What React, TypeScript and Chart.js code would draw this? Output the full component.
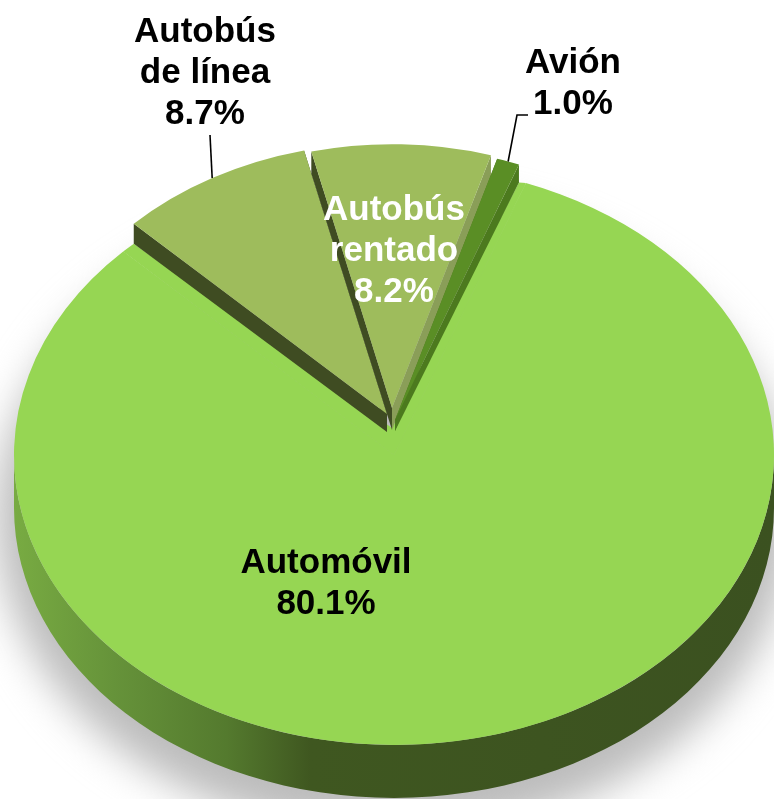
import React, { useEffect, useRef } from "react";
import { Chart, registerables } from "chart.js";

Chart.register(...registerables);

// ---- data ----
const categories = ["Automóvil", "Autobús\nde línea", "Autobús\nrentado", "Avión"];
const shares = [80.1, 8.7, 8.2, 1.0];

// ---- styles ----
const faceColors = ["#96D653", "#9EBC5C", "#9EBC5C", "#5A8E25"];
const leftWallColors = ["#3F5320", "#3F4C22", "#3F4C22", "#4C7A1E"];
const rightWallColors = ["#3F5320", "#3F4C22", "#8A9E58", "#4C7A1E"];
const labelColors = ["#000000", "#000000", "#FFFFFF", "#000000"];

// ---- layout: tilt of the pie, and how each slice is pulled out of it ----
const W = 774;
const H = 799;
const PIE_RADIUS = 380;
const TILT = 0.763;
const START_DEG = 20.3;
const CAR_APEX: [number, number] = [392, 428];
const slicePlacement = [
  { at: [394, 455], scale: 1, depth: 53, apexDepth: 53 },
  { at: [387, 414], scale: 0.935, depth: 20, apexDepth: 18 },
  { at: [392, 408], scale: 0.91, depth: 22, apexDepth: 22 },
  { at: [395, 420], scale: 0.94, depth: 18, apexDepth: 11 },
];
const labelPlacement = [
  { x: 326, y: 563 },
  { x: 205, y: 32 },
  { x: 394, y: 210 },
  { x: 573, y: 63 },
];
const leaderEnds: (number[][] | null)[] = [
  null,
  [[210, 135]],
  null,
  [[517, 115], [528, 115]],
];
const FONT = 'bold 35px "Liberation Sans", Arial, sans-serif';
const LINE_HEIGHT = 41;

function rimPoint(el: any, i: number, angle: number): [number, number] {
  const p = slicePlacement[i];
  const r = el.outerRadius * p.scale;
  return [p.at[0] + r * Math.cos(angle), p.at[1] + r * TILT * Math.sin(angle)];
}

function placeSlice(ctx: CanvasRenderingContext2D, el: any, i: number) {
  const p = slicePlacement[i];
  ctx.translate(p.at[0], p.at[1]);
  ctx.scale(p.scale, p.scale * TILT);
  ctx.translate(-el.x, -el.y);
}

function wall(ctx: CanvasRenderingContext2D, i: number, rim: number[], color: string) {
  const p = slicePlacement[i];
  ctx.fillStyle = color;
  ctx.beginPath();
  ctx.moveTo(p.at[0], p.at[1]);
  ctx.lineTo(rim[0], rim[1]);
  ctx.lineTo(rim[0], rim[1] + p.depth);
  ctx.lineTo(p.at[0], p.at[1] + p.apexDepth);
  ctx.closePath();
  ctx.fill();
}

const pie3d = {
  id: "pie3d",
  beforeDatasetsDraw(chart: any) {
    const ctx: CanvasRenderingContext2D = chart.ctx;
    const arcs = chart.getDatasetMeta(0).data;
    const car = arcs[0];
    const base = slicePlacement[0];
    const rx = car.outerRadius * base.scale;
    const ry = rx * TILT;
    const [cx, cy] = base.at;

    // soft shadow of the whole body
    ctx.save();
    ctx.filter = "blur(20px)";
    ctx.fillStyle = "#BCBCBC";
    ctx.beginPath();
    ctx.ellipse(cx, cy + base.depth + 10, rx + 18, ry + 28, 0, 0, Math.PI * 2);
    ctx.fill();
    ctx.restore();

    // rim of the big slice
    const grad = ctx.createLinearGradient(cx - rx, 0, cx + rx, 0);
    grad.addColorStop(0, "#78AB42");
    grad.addColorStop(0.13, "#66933A");
    grad.addColorStop(0.28, "#547A2E");
    grad.addColorStop(0.39, "#3F5720");
    grad.addColorStop(1, "#3B5120");
    ctx.fillStyle = grad;
    ctx.beginPath();
    ctx.ellipse(cx, cy, rx, ry, 0, 0, Math.PI);
    ctx.ellipse(cx, cy + base.depth, rx, ry, 0, Math.PI, 0, true);
    ctx.closePath();
    ctx.fill();

    // big slice: its notch closes on the pulled-out slices and the apex seen in perspective
    const a0 = rimPoint(car, 0, car.startAngle);
    const a1 = rimPoint(car, 0, car.endAngle);
    const lineLeft = rimPoint(arcs[1], 1, arcs[1].startAngle);
    const planeRight = rimPoint(arcs[3], 3, arcs[3].endAngle);
    ctx.fillStyle = faceColors[0];
    ctx.strokeStyle = faceColors[0];
    ctx.lineWidth = 1;
    ctx.beginPath();
    ctx.moveTo(cx, cy);
    ctx.lineTo(a0[0], a0[1]);
    ctx.lineTo(planeRight[0], planeRight[1] + slicePlacement[3].depth);
    ctx.lineTo(CAR_APEX[0], CAR_APEX[1]);
    ctx.lineTo(lineLeft[0], lineLeft[1] + slicePlacement[1].depth);
    ctx.lineTo(a1[0], a1[1]);
    ctx.closePath();
    ctx.fill();
    ctx.save();
    placeSlice(ctx, car, 0);
    car.draw(ctx);
    ctx.restore();
    // seals the seam between the wedge and the notch filler
    ctx.beginPath();
    ctx.moveTo(a0[0] - 1, a0[1] + 2);
    ctx.lineTo(cx, cy);
    ctx.lineTo(a1[0] + 1, a1[1] + 1);
    ctx.stroke();

    // pulled-out slices
    [1, 2, 3].forEach((i) => {
      const el = arcs[i];
      const s = rimPoint(el, i, el.startAngle);
      const e = rimPoint(el, i, el.endAngle);
      wall(ctx, i, e, rightWallColors[i]);
      wall(ctx, i, s, leftWallColors[i]);
      ctx.save();
      placeSlice(ctx, el, i);
      el.draw(ctx);
      ctx.restore();
    });

    // leader lines
    ctx.strokeStyle = "#000";
    ctx.lineWidth = 1.6;
    leaderEnds.forEach((pts, i) => {
      if (!pts) return;
      const el = arcs[i];
      const s = rimPoint(el, i, (el.startAngle + el.endAngle) / 2);
      ctx.beginPath();
      ctx.moveTo(s[0], s[1]);
      pts.forEach((q) => ctx.lineTo(q[0], q[1]));
      ctx.stroke();
    });

    // labels
    ctx.font = FONT;
    ctx.textAlign = "center";
    ctx.textBaseline = "middle";
    categories.forEach((name, i) => {
      const lines = [...name.split("\n"), `${shares[i].toFixed(1)}%`];
      ctx.fillStyle = labelColors[i];
      lines.forEach((t, j) => {
        ctx.fillText(t, labelPlacement[i].x, labelPlacement[i].y + j * LINE_HEIGHT);
      });
    });
    return false;
  },
};

export default function App() {
  const ref = useRef<HTMLCanvasElement>(null);
  useEffect(() => {
    const chart = new Chart(ref.current!, {
      type: "pie",
      data: {
        labels: categories.map((c) => c.replace("\n", " ")),
        datasets: [
          {
            data: shares,
            backgroundColor: faceColors,
            borderWidth: 0,
          },
        ],
      },
      options: {
        responsive: false,
        animation: false,
        rotation: START_DEG,
        radius: PIE_RADIUS,
        layout: { padding: 0 },
        plugins: { legend: { display: false }, tooltip: { enabled: false } },
      },
      plugins: [pie3d],
    } as any);
    return () => chart.destroy();
  }, []);
  return (
    <canvas
      ref={ref}
      width={W}
      height={H}
      style={{ position: "fixed", left: 0, top: 0, width: W, height: H, display: "block" }}
    />
  );
}
